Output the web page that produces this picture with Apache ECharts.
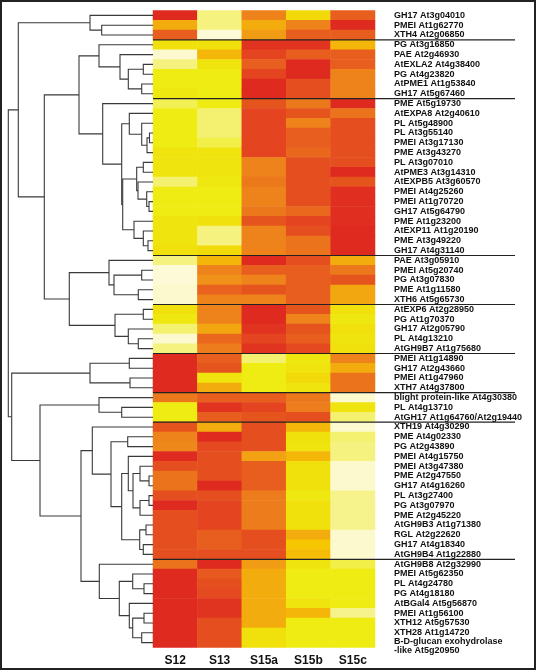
<!DOCTYPE html>
<html><head><meta charset="utf-8">
<script src="https://cdn.jsdelivr.net/npm/echarts@6/dist/echarts.min.js"></script>
<style>html,body{margin:0;padding:0;background:#fff}#c{width:537px;height:671px}</style>
</head><body><div id="c"></div>
<script>
const genes = [
 'GH17 At3g04010','PMEI At1g62770','XTH4 At2g06850','PG At3g16850','PAE At2g46930','AtEXLA2 At4g38400',
 'PG At4g23820','AtPME1 At1g53840','GH17 At5g67460','PME At5g19730','AtEXPA8 At2g40610','PL At5g48900',
 'PL At3g55140','PMEI At3g17130','PME At3g43270','PL At3g07010','AtPME3 At3g14310','AtEXPB5 At3g60570',
 'PMEI At4g25260','PMEI At1g70720','GH17 At5g64790','PME At1g23200','AtEXP11 At1g20190','PME At3g49220',
 'GH17 At4g31140','PAE At3g05910','PMEI At5g20740','PG At3g07830','PME At1g11580','XTH6 At5g65730',
 'AtEXP6 At2g28950','PG At1g70370','GH17 At2g05790','PL At4g13210','AtGH9B7 At1g75680','PMEI At1g14890',
 'GH17 At2g43660','PMEI At1g47960','XTH7 At4g37800','blight protein-like At4g30380','PL At4g13710',
 'AtGH17 At1g64760/At2g19440','XTH19 At4g30290','PME At4g02330','PG At2g43890','PMEI At4g15750',
 'PMEI At3g47380','PME At2g47550','GH17 At4g16260','PL At3g27400','PG At3g07970','PME At2g45220',
 'AtGH9B3 At1g71380','RGL At2g22620','GH17 At4g18340','AtGH9B4 At1g22880','AtGH9B8 At2g32990',
 'PMEI At5g62350','PL At4g24780','PG At4g18180','AtBGal4 At5g56870','PMEI At1g56100','XTH12 At5g57530',
 'XTH28 At1g14720','B-D-glucan exohydrolase\n-like At5g20950'
];
const samples = ['S12','S13','S15a','S15b','S15c'];
// relative expression level (0 = pale, 6 = red)
const S12  = [6,3.5,5,2.3,0.3,1.2,2,2,2.1,1.5,2,2,2,2,2.2,2.2,2.2,1.3,2,2,2,2.2,2.2,2.2,2.3,1.2,0.2,0.2,0.3,0.3,2.3,2.1,1.3,0.3,1.2,6,6,6,6,4.5,2,2,5.2,4.3,4.2,6,5.3,4.6,4.6,5.3,6,5.3,5.3,5.3,5.3,5.3,4.6,6,6,6,6,6,6,6,6];
const S13  = [1.2,1.2,0.2,2.3,3.3,2.2,2,2,2,2,1.3,1.3,1.3,1.6,2.2,2.2,2.2,2.1,2,2,2,2.3,1.2,1.2,2.5,3.3,4.3,4,4.9,4.3,4.3,4.3,3.6,4.8,4.4,5,5.2,2.2,3.5,5,5.8,5,3.5,6,5.4,5.3,5.3,5.3,6,5.3,5.5,5.5,5.5,5,5,5.3,6,5.1,5.3,5.4,5.8,5.8,5.3,5.3,5.3];
const S15a = [4.3,3.5,3.8,5.8,5.5,5,5.5,6,6,5.2,5.5,5.5,5.5,5.5,5.5,4.3,4.3,4.5,4.3,4.3,4.5,5.2,4.3,4.3,4.3,6,5,4.3,5.2,4.3,6,6,5.8,5.5,5.8,1.3,2,2,2,5,5.5,5.2,5.3,5.3,5.3,3.7,5,5,5,4.4,4.4,4.4,4.4,5.3,5.3,5.3,3.8,3.5,3.5,3.5,3.5,3.5,3.5,2.3,2.3];
const S15b = [2.5,4.3,5,5.8,5,6,6,5.3,5.3,4.5,5.2,4.3,5,5,4.8,5.3,5.3,5.3,5.3,5.3,4.8,5.5,5.3,4.6,4.6,5.3,5,5,5,5,5.2,4.3,5.2,5,5.4,2.1,2.2,2.5,2.2,4.5,4.4,5.3,3.3,2.3,2.2,3.3,2.3,2.3,2.3,2.1,2.3,2.3,2.3,3.5,3,3.2,2.2,2,2,2,2.2,3.3,2,2,2];
const S15c = [5,6,5,3.3,5,5,4.3,4.3,4.3,6,4.6,5.3,5.3,5.3,5.3,5.3,6,5.2,5.9,5.9,5.9,5.9,6,6,6,3.5,4.5,5.2,3.6,3.6,2.3,2.1,2.3,2.2,2.3,4.3,3.5,4.6,4.6,0.3,2.2,1.3,0.3,1.3,1.2,1.2,0.3,0.3,0.3,1.1,1.1,1.1,1.1,0.3,0.3,0.3,1.6,2,2,2,2,1.1,2,2,2];
// cluster boundaries (after row n)
const groupBreaks = [3,9,25,30,35,39,42,56];
// dendrogram: [mergeDistance, left, right]; leaves = row numbers
const dendro = [144.7,
  [134.7,
    [63, 1, [51.3, 2, 3]],
    [108.7,
      [74,
        [54, 4, [33, 5, [24.7, [9.7, 6, 7], [11.3, 8, 9]]]],
        [50.3, 10,
          [31.3,
            [23.7, 11, [11.3, 12, [6, [3.5, 13, 14], 15]]],
            [30.3,
              [16.3, [9.7, 16, 17], [15, 18, [6.3, 19, [4, 20, 21]]]],
              [19, 22, [9.7, 23, [5, 24, 25]]]]]]],
      [83.7,
        [44, 26, [39, [11.3, 27, 28], [14.7, 29, 30]]],
        [38, [9.7, 31, 32], [24.7, 33, [14.7, 34, 35]]]]]],
  [141.3,
    [63, [23.7, 36, 37], [23, 38, 39]],
    [113,
      [54, 40, [31.3, 41, 42]],
      [72,
        [60.7, 43,
          [42, [25.3, 44, 45],
            [31.3,
              [24.7, 46, [20, [13, 47, [4, 48, 49]], [13, [4, 50, 51], 52]]],
              [13.3, [7, 53, 54], [9.7, 55, 56]]]]],
        [53.7, 57,
          [33.7,
            [20.3, 58, [9, 59, 60]],
            [23.7, 61, [20.3, [9, 62, 63], [11.3, 64, 65]]]]]]]]];

const links = [];
function walk(n) {
  if (typeof n === 'number') return { h: 0, y: n };
  const a = walk(n[1]), b = walk(n[2]);
  links.push([n[0], a.y, b.y, a.h, b.h]);
  return { h: n[0], y: (a.y + b.y) / 2 };
}
walk(dendro);

const cols = [S12, S13, S15a, S15b, S15c];
const heat = [];
cols.forEach((arr, ci) => arr.forEach((v, ri) => heat.push([ci, ri, v])));

const FONT = '"Liberation Sans", Arial, sans-serif';
const labelTok = { fontSize: 9, fontWeight: 'bold', color: '#111', fontFamily: FONT };

const chart = echarts.init(document.getElementById('c'));
chart.setOption({
  animation: false,
  backgroundColor: '#fff',
  grid: [
    { left: 8, top: 10.5, width: 145, height: 637 },
    { left: 153, top: 10.5, width: 222, height: 637 }
  ],
  xAxis: [
    { gridIndex: 0, type: 'value', min: 0, max: 145, inverse: true, show: false },
    { gridIndex: 1, type: 'category', data: samples, position: 'bottom',
      axisLine: { show: false }, axisTick: { show: false },
      axisLabel: { margin: 7, fontSize: 12, fontWeight: 'bold', color: '#111', fontFamily: FONT } }
  ],
  yAxis: [
    { gridIndex: 0, type: 'value', min: 0.5, max: 65.5, inverse: true, show: false },
    { gridIndex: 1, type: 'category', data: genes, inverse: true, position: 'right',
      axisLine: { show: false }, axisTick: { show: false }, splitLine: { show: false },
      axisLabel: { interval: 0, margin: 19, fontSize: 9, fontWeight: 'bold', color: '#111',
        fontFamily: FONT, lineHeight: 10,
        formatter: function (v) {
          const parts = v.split('\n');
          if (parts.length === 1) return v;
          return '{p|' + parts[0] + '}\n{q|' + parts[1] + '}';
        },
        rich: {
          p: Object.assign({ lineHeight: 16, verticalAlign: 'bottom' }, labelTok),
          q: Object.assign({ lineHeight: 10 }, labelTok)
        } } }
  ],
  visualMap: {
    show: false, type: 'continuous', min: 0, max: 6, seriesIndex: 0,
    inRange: { color: ['#FFFCE6', '#F7F39A', '#EEEC12', '#F6C600', '#F0921A', '#E85E1E', '#DF2A20'] }
  },
  series: [
    { type: 'heatmap', xAxisIndex: 1, yAxisIndex: 1, data: heat,
      itemStyle: { borderWidth: 0 }, emphasis: { disabled: true } },
    { type: 'custom', xAxisIndex: 0, yAxisIndex: 0, data: links, silent: true, clip: false,
      renderItem: function (params, api) {
        const h = api.value(0), y1 = api.value(1), y2 = api.value(2), h1 = api.value(3), h2 = api.value(4);
        const pts = [api.coord([h1, y1]), api.coord([h, y1]), api.coord([h, y2]), api.coord([h2, y2])];
        return { type: 'polyline', shape: { points: pts },
          style: { stroke: '#3a3a3a', lineWidth: 1.1, fill: null } };
      } },
    { type: 'custom', xAxisIndex: 1, yAxisIndex: 1, data: groupBreaks.map(k => [0, k - 1]),
      silent: true, clip: false, z: 10,
      renderItem: function (params, api) {
        const p = api.coord([0, api.value(1)]);
        const bh = api.size([0, 1])[1];
        const y = p[1] + bh / 2;
        const x1 = params.coordSys.x;
        const x2 = x1 + params.coordSys.width + 140;
        return { type: 'line', shape: { x1: x1, y1: y, x2: x2, y2: y },
          style: { stroke: '#222', lineWidth: 1.2 } };
      } }
  ],
  graphic: [
    { type: 'rect', shape: { x: 1, y: 1, width: 534, height: 668 },
      style: { stroke: '#222', lineWidth: 2, fill: null }, silent: true, z: 100 }
  ]
});
</script>
</body></html>
